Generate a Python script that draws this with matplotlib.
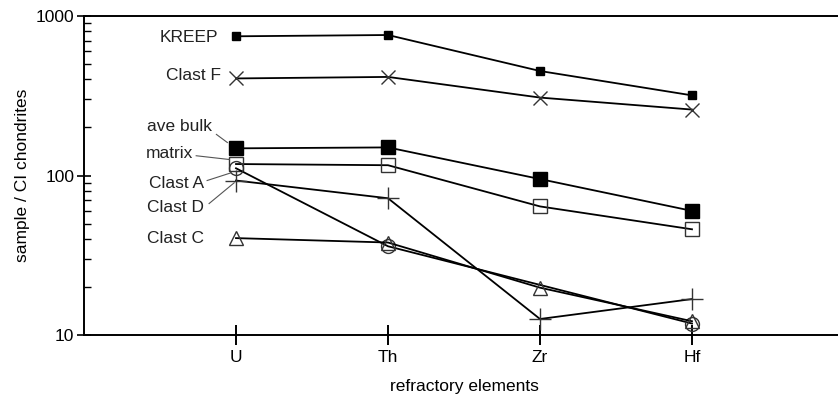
import numpy as np
import matplotlib
matplotlib.use("Agg")
import matplotlib.pyplot as plt

plt.rcParams['font.family'] = ['Liberation Sans', 'DejaVu Sans']

# elementos refractarios normalizados a condritas CI
elementos = ["U", "Th", "Zr", "Hf"]
kreep = [746, 760, 452, 318]
clast_f = [406, 415, 308, 259]
ave_bulk = [148, 150, 95, 60]
matrix = [118, 116, 64, 46]
clast_a = [111, 36, np.nan, 11.8]
clast_d = [93, 72, 12.6, 16.8]
clast_c = [40.5, 38, 19.8, 12.2]

# (etiqueta, x, y) para los nombres de cada serie
etiquetas = [
    ("KREEP", 0.88, 735),
    ("Clast F", 0.90, 424),
    ("ave bulk", 0.84, 203),
    ("matrix", 0.72, 137),
    ("Clast A", 0.79, 89),
    ("Clast D", 0.79, 63),
    ("Clast C", 0.79, 40),
]
# líneas guía: ((x0, y0), (x1, y1))
guias = [
    ((0.871, 181), (0.943, 161)),
    ((0.738, 133), (0.955, 126)),
    ((0.81, 93), (0.968, 104)),
    ((0.823, 66.7), (0.988, 90)),
]

fig = plt.figure(figsize=(8.38, 4.12), dpi=100)
ax = fig.add_axes([84 / 838, 77 / 412, 760 / 838, 319 / 412])

x = np.arange(1, len(elementos) + 1)
lw = 1.3

def serie(vals, **kw):
    v = np.array(vals, dtype=float)
    ok = ~np.isnan(v)
    ax.plot(x[ok], v[ok], color='black', lw=lw, **kw)

serie(kreep, marker='s', ms=6, mfc='black', mec='black')
serie(clast_f, marker='x', ms=10, mew=1.0, mec='#333333')
serie(ave_bulk, marker='s', ms=10, mfc='black', mec='black')
serie(matrix, marker='s', ms=10, mfc='none', mec='#333333', mew=1.0)
serie(clast_a, marker='o', ms=10, mfc='none', mec='#333333', mew=1.0)
serie(clast_d, marker='+', ms=16, mew=1.0, mec='#333333')
serie(clast_c, marker='^', ms=10, mfc='none', mec='#333333', mew=1.0)

for texto, tx, ty in etiquetas:
    ax.text(tx, ty, texto, ha='right', va='center', fontsize=12.5, color='#222222')
for (x0, y0), (x1, y1) in guias:
    ax.plot([x0, x1], [y0, y1], color='#555555', lw=0.8)

ax.set_yscale('log')
ax.set_ylim(10, 1000)
ax.set_xlim(0, 5)
ax.set_xticks(x)
ax.set_xticklabels(elementos)
ax.set_yticks([10, 100, 1000])
ax.set_yticklabels(["10", "100", "1000"])

ax.spines['right'].set_visible(False)
for s in ['left', 'top', 'bottom']:
    ax.spines[s].set_linewidth(1.4)
ax.tick_params(axis='x', which='major', direction='inout', length=14, width=1.4,
               labelsize=12.5, pad=4)
ax.tick_params(axis='y', which='major', direction='inout', length=10, width=1.2,
               labelsize=12.5, pad=2)
ax.tick_params(axis='y', which='minor', direction='in', length=5, width=1.0)
ax.tick_params(axis='x', which='minor', bottom=False)

ax.set_xlabel("refractory elements", fontsize=12.5, labelpad=10)
ax.set_ylabel("sample / CI chondrites", fontsize=12.5, labelpad=4)

fig.savefig("out.png", dpi=100)
